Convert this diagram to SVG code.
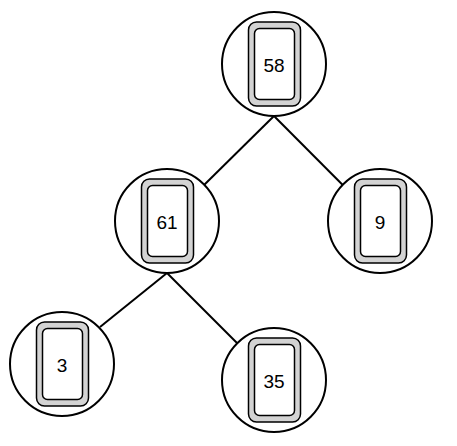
<svg xmlns="http://www.w3.org/2000/svg" width="457" height="446" viewBox="0 0 457 446">
<style>
.c{fill:#fff;stroke:#000;stroke-width:2}
.o{fill:#d3d3d3;stroke:#000;stroke-width:1.5}
.i{fill:#fff;stroke:#000;stroke-width:1.5}
.t{font-family:"Liberation Sans",Arial,sans-serif;font-size:19px;fill:#000;text-anchor:middle;dominant-baseline:central}
.e{stroke:#000;stroke-width:2;fill:none}
</style>
<defs>
<g id="box">
<rect class="o" x="-25.5" y="-42" width="52" height="84" rx="8"/>
<rect class="i" x="-19.5" y="-35.5" width="40" height="71" rx="5"/>
</g>
</defs>
<g id="connectors">
<line class="e" x1="274" y1="116" x2="204.3" y2="184.8"/>
<line class="e" x1="274" y1="116" x2="342.5" y2="184.8"/>
<line class="e" x1="167" y1="273" x2="100" y2="327"/>
<line class="e" x1="167" y1="273" x2="237" y2="343"/>
</g>
<g id="n58"><circle class="c" cx="274" cy="64" r="52"/><use href="#box" x="274" y="64"/><text class="t" x="274" y="65">58</text></g>
<g id="n61"><circle class="c" cx="167" cy="221" r="52"/><use href="#box" x="167" y="221"/><text class="t" x="167" y="222">61</text></g>
<g id="n9"><circle class="c" cx="380" cy="221" r="52"/><use href="#box" x="380" y="221"/><text class="t" x="380" y="222">9</text></g>
<g id="n3"><circle class="c" cx="62" cy="364" r="52"/><use href="#box" x="62" y="364"/><text class="t" x="62" y="365">3</text></g>
<g id="n35"><circle class="c" cx="274" cy="380" r="52"/><use href="#box" x="274" y="380"/><text class="t" x="274" y="381">35</text></g>
</svg>
